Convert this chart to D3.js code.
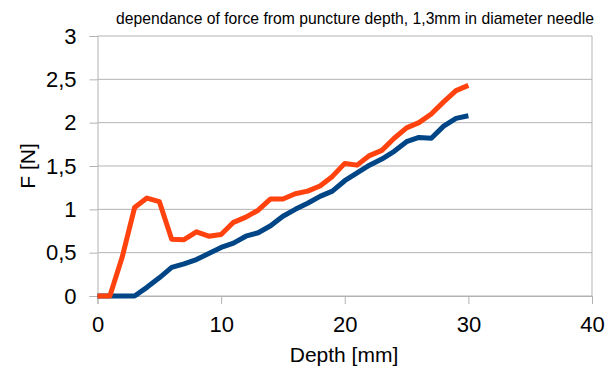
<!DOCTYPE html>
<html><head><meta charset="utf-8">
<script src="https://cdn.jsdelivr.net/npm/d3@7"></script>
<style>body{margin:0;background:#fff}svg{display:block}text{font-family:"Liberation Sans",Arial,sans-serif;fill:#000}</style>
</head><body><svg id="c" width="609" height="367"></svg>
<script>
const title = "dependance of force from puncture depth, 1,3mm in diameter needle";
const xLabel = "Depth [mm]";
const yLabel = "F [N]";
const depth = d3.range(0, 31);
const seriesOrange = [0,0,0.45,1.02,1.13,1.09,0.655,0.65,0.74,0.69,0.71,0.85,0.91,0.99,1.12,1.12,1.18,1.21,1.27,1.38,1.53,1.51,1.62,1.68,1.82,1.94,2.0,2.10,2.24,2.37,2.43];
const seriesBlue = [0,0,0,0,0.1,0.21,0.33,0.37,0.42,0.49,0.56,0.61,0.69,0.73,0.81,0.92,1.0,1.07,1.15,1.21,1.33,1.42,1.51,1.58,1.67,1.78,1.83,1.82,1.96,2.05,2.08];
const xTicks = [0,10,20,30,40];
const yTicks = [0,0.5,1,1.5,2,2.5,3];
const fmt = v => String(v).replace(".", ",");

const svg = d3.select("#c");
const x = d3.scaleLinear().domain([0,40]).range([97.5,592]);
const y = d3.scaleLinear().domain([0,3]).range([296,36]);

svg.append("g").selectAll("line").data(yTicks).join("line")
  .attr("x1", x(0)).attr("x2", x(40)).attr("y1", d=>y(d)).attr("y2", d=>y(d))
  .attr("stroke", "#b3b3b3").attr("stroke-width", 1);
svg.append("line").attr("x1", x(40)).attr("x2", x(40)).attr("y1", y(3)).attr("y2", y(0)).attr("stroke","#b3b3b3");

const yAxis = svg.append("g").attr("transform", `translate(${x(0)},0)`)
  .call(d3.axisLeft(y).tickValues(yTicks).tickFormat(fmt).tickSize(8).tickPadding(13));
yAxis.select(".domain").attr("stroke","#b3b3b3");
yAxis.selectAll(".tick line").attr("stroke","#b3b3b3");
yAxis.selectAll("text").style("font-size","22px").attr("fill","#000");

const xAxis = svg.append("g").attr("transform", `translate(0,${y(0)})`)
  .call(d3.axisBottom(x).tickValues(xTicks).tickFormat(fmt).tickSize(8).tickPadding(12));
xAxis.select(".domain").attr("stroke","#b3b3b3");
xAxis.selectAll(".tick line").attr("stroke","#b3b3b3");
xAxis.selectAll("text").style("font-size","22px").attr("fill","#000");

const line = d3.line().x((d,i)=>x(depth[i])).y(d=>y(d));
svg.append("path").datum(seriesBlue).attr("d", line).attr("fill","none")
  .attr("stroke","#004586").attr("stroke-width",5).attr("stroke-linejoin","round");
svg.append("path").datum(seriesOrange).attr("d", line).attr("fill","none")
  .attr("stroke","#ff420e").attr("stroke-width",5).attr("stroke-linejoin","round");

svg.append("text").attr("x", 355).attr("y", 24).attr("text-anchor","middle")
  .style("font-size","15.7px").text(title);
svg.append("text").attr("x", 344).attr("y", 362).attr("text-anchor","middle")
  .style("font-size","21px").text(xLabel);
svg.append("text").attr("transform","translate(35,166) rotate(-90)").attr("text-anchor","middle")
  .style("font-size","21px").text(yLabel);
</script></body></html>
